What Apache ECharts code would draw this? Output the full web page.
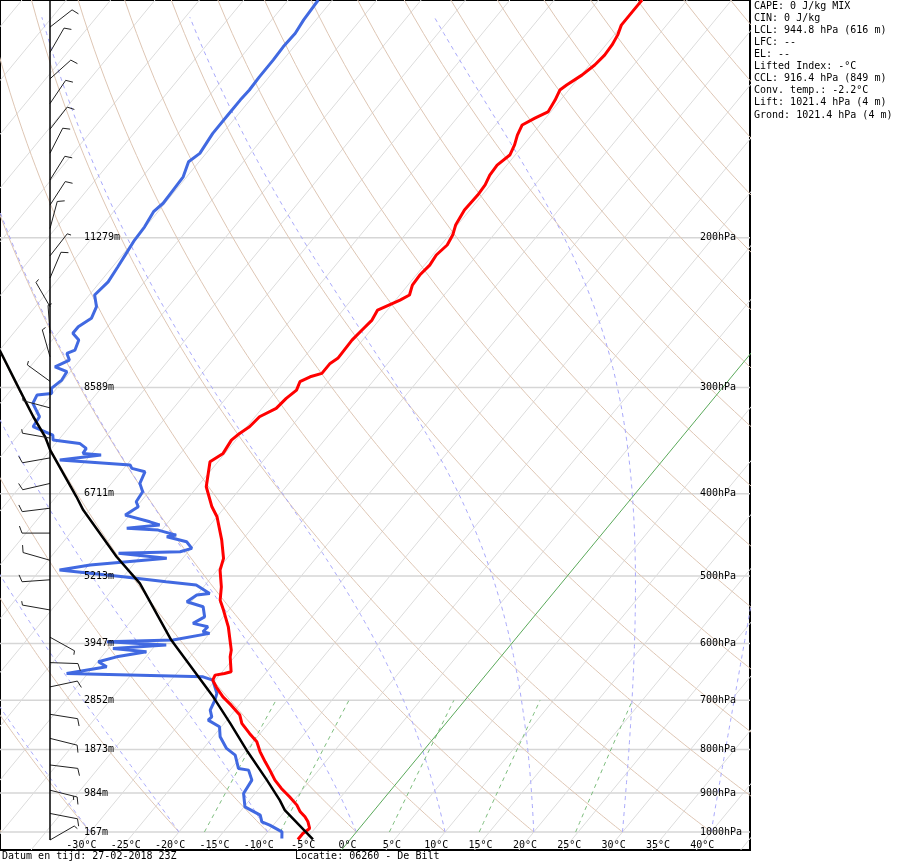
<!DOCTYPE html>
<html>
<head>
<meta charset="utf-8">
<title>Skew-T De Bilt</title>
<script src="https://cdn.jsdelivr.net/npm/echarts@6.0.0/dist/echarts.min.js"></script>
<style>
  html, body { margin: 0; padding: 0; background: #fff; }
  #chart { width: 900px; height: 865px; }
</style>
</head>
<body>
<div id="chart"></div>
<script>
// diagram frame: log pressure from 1050 to 105 hPa, skewed temperature axis
var P_TOP = 105, P_BOT = 1050, SKEW = 34.3, X_MIN = -38.5, X_MAX = 46.05;
var BARB_BASE = 50;
var MONO = '"DejaVu Sans Mono", "Liberation Mono", monospace';

// measured temperature profile (hPa, degC)
var tempP = [1020.4, 1003.9, 990.4, 972.8, 959.8, 946.8, 929.8, 909.1, 888.7, 868.9, 845.7, 826.9, 804.8, 783.3, 765.7,
  745.2, 728.6, 709.2, 693.4, 674.8, 662.7, 653.8, 650.8, 648.0, 622.2, 611.0, 573.6, 548.2, 533.6, 514.7, 491.9, 476.5,
  453.5, 425.7, 414.4, 392.5, 366.8, 358.6, 345.9, 339.7, 333.6, 324.7, 317.4, 308.9, 302.1, 295.3, 291.4, 288.7, 281.0,
  277.2, 263.8, 256.7, 249.9, 243.2, 236.7, 233.5, 227.3, 221.2, 215.3, 209.5, 203.9, 198.5, 193.2, 185.5, 178.1, 173.3,
  168.7, 164.2, 159.8, 155.5, 151.4, 147.3, 144.6, 142.2, 137.7, 134.0, 132.2, 128.7, 125.2, 121.9, 118.6, 115.4, 112.4,
  109.4, 106.4, 105.0];
var tempT = [-5.9, -5.9, -5.6, -6.4, -7.2, -8.2, -9.2, -10.8, -12.5, -14.0, -15.5, -16.8, -18.3, -19.6, -21.2,
  -23.0, -24.0, -25.9, -27.6, -29.3, -30.3, -30.5, -29.6, -29.0, -30.5, -31.0, -33.5, -35.6, -36.9, -38.0, -39.7, -40.4,
  -42.3, -45.0, -46.5, -49.0, -50.9, -50.2, -50.5, -50.2, -49.7, -49.5, -48.4, -48.2, -47.8, -48.2, -47.5, -46.5, -46.5,
  -46.1, -46.2, -46.0, -45.8, -46.1, -44.5, -43.9, -44.5, -44.6, -44.4, -44.6, -44.3, -44.6, -45.2, -45.6, -45.5, -45.6,
  -46.0, -46.1, -45.6, -46.0, -46.6, -47.0, -46.2, -45.3, -45.6, -46.0, -45.7, -44.9, -44.4, -44.2, -44.3, -44.6, -45.1,
  -45.1, -45.1, -45.1];

// measured dew point profile
var dewP = [1017.6, 999.6, 981.6, 972.8, 955.4, 934.1, 900.8, 868.9, 845.7, 841.8, 812.0, 797.4, 772.7, 752.1, 738.6,
  732.0, 718.8, 699.6, 687.0, 662.7, 656.8, 650.8, 639.2, 630.6, 622.2, 613.8, 608.2, 602.7, 597.4, 594.6, 583.9, 581.4,
  573.6, 568.3, 558.3, 543.3, 536.0, 526.4, 524.0, 512.3, 507.8, 500.9, 491.9, 485.3, 476.5, 470.1, 468.1, 463.8, 455.6,
  449.5, 447.4, 441.4, 439.3, 435.4, 431.6, 423.8, 414.4, 408.8, 397.9, 388.9, 376.9, 373.4, 370.1, 365.1, 360.2, 358.6,
  353.7, 349.0, 345.9, 341.2, 333.6, 324.7, 313.1, 306.2, 304.8, 300.7, 294.0, 287.4, 283.6, 278.5, 273.5, 271.0, 263.8,
  259.0, 254.4, 248.7, 241.0, 233.5, 225.3, 216.3, 208.6, 201.2, 194.1, 186.3, 182.1, 175.7, 169.5, 162.7, 159.1, 150.7,
  143.4, 137.7, 134.0, 129.3, 123.5, 119.2, 114.9, 110.8, 105.0];
var dewT = [-7.8, -8.4, -10.4, -11.6, -12.4, -14.9, -16.3, -16.6, -17.9, -19.2, -20.8, -22.4, -24.2, -25.2, -27.1,
  -27.0, -27.8, -28.2, -28.6, -30.3, -31.7, -47.4, -43.5, -44.9, -43.3, -40.4, -44.5, -38.8, -45.8, -38.5, -35.0, -35.9,
  -35.8, -37.8, -37.1, -38.2, -40.5, -40.0, -38.7, -41.0, -44.7, -50.0, -57.8, -54.8, -46.8, -52.7, -45.9, -44.9, -46.1,
  -48.8, -47.9, -50.4, -54.1, -50.7, -52.1, -55.5, -54.8, -55.5, -55.7, -56.8, -57.3, -59.1, -59.6, -68.0, -63.8, -66.0,
  -66.1, -67.3, -70.6, -71.1, -74.1, -74.3, -76.3, -76.6, -75.1, -75.6, -75.2, -75.4, -77.2, -76.2, -77.1, -76.5, -77.0,
  -78.3, -78.3, -77.6, -78.1, -79.4, -79.1, -79.4, -79.7, -80.0, -80.1, -80.5, -80.2, -80.3, -80.4, -81.2, -80.7, -81.1,
  -81.1, -81.1, -81.0, -81.1, -81.1, -81.2, -81.1, -81.4, -81.6];

// lifted parcel path
var parcelP = [1020.4, 942.5, 917.3, 868.9, 804.8, 745.2, 693.4, 594.6, 510.0, 474.5, 418.1, 403.3, 355.4, 342.8, 324.7, 302.1, 271.0];
var parcelT = [-4.2, -10.1, -11.6, -14.9, -19.7, -24.3, -28.7, -38.7, -47.5, -52.6, -60.7, -62.7, -70.0, -71.8, -75.0, -79.0, -85.0];

// wind barbs: pressure, direction (deg), speed (kt)
var barbP = [113, 121, 130, 139, 149, 159, 171, 183, 195, 210, 223, 241, 259, 276, 295, 317, 344, 363, 389, 416, 445,
  479, 505, 548, 590, 632, 675, 727, 776, 834, 893, 951, 1022];
var barbDir = [52, 30, 48, 34, 38, 27, 32, 33, 15, 38, 23, 330, 356, 344, 306, 285, 280, 260, 257, 263, 270,
  286, 266, 280, 119, 92, 78, 99, 104, 97, 104, 101, 60];
var barbSpd = [10, 10, 10, 10, 10, 10, 10, 10, 10, 5, 10, 5, 5, 5, 5, 5, 5, 10, 10, 10, 10,
  10, 10, 5, 5, 10, 10, 10, 10, 10, 15, 10, 5];

// axis labels
var isobarLevels = [1000, 900, 800, 700, 600, 500, 400, 300, 200];
var heightLabels = ['167m', '984m', '1873m', '2852m', '3947m', '5213m', '6711m', '8589m', '11279m'];
var tempTicks = [-30, -25, -20, -15, -10, -5, 0, 5, 10, 15, 20, 25, 30, 35, 40];

// background line families
var isotherms = [-115, -110, -105, -100, -95, -90, -85, -80, -75, -70, -65, -60, -55, -50, -45, -40, -35, -30, -25,
  -20, -15, -10, -5, 5, 10, 15, 20, 25, 30, 35, 40, 45];
var dryAdiabats = [-40, -30, -20, -10, 0, 10, 20, 30, 40, 50, 60, 70, 80, 90, 100, 110, 120, 130, 140, 150, 160, 170, 180];
var moistAdiabats = [-30, -20, -10, 0, 10, 20, 30, 40];
var mixingRatios = [1, 2, 5, 10, 20];

var infoLines = ['CAPE: 0 J/kg MIX', 'CIN: 0 J/kg', 'LCL: 944.8 hPa (616 m)', 'LFC: --', 'EL: --',
  'Lifted Index: -°C', 'CCL: 916.4 hPa (849 m)', 'Conv. temp.: -2.2°C', 'Lift: 1021.4 hPa (4 m)',
  'Grond: 1021.4 hPa (4 m)'];

function skewX(t, p) {
  return t + SKEW * Math.log(P_BOT / p);
}

function profile(ps, ts) {
  return ps.map(function (p, i) { return [skewX(ts[i], p), p]; });
}

function dryLine(theta) {
  var out = [];
  for (var p = 1000; p >= P_TOP; p -= 5) {
    var t = (theta + 273.15) * Math.pow(p / 1000, 0.2857) - 273.15;
    out.push([skewX(t, p), p]);
  }
  return out;
}

function lapse(tK, p) {
  var tc = tK - 273.15;
  var es = 6.112 * Math.exp(17.67 * tc / (tc + 243.5));
  var rs = 0.622 * es / (p - es);
  var lv = 2.501e6;
  return (287.04 * tK + lv * rs) / (p * (1005.7 + lv * lv * rs * 0.622 / (287.04 * tK * tK)));
}

function moistLine(t0) {
  var tK = t0 + 273.15, p = 1000, dp = -5;
  var out = [[skewX(t0, p), p]];
  while (p > 110) {
    var k1 = lapse(tK, p);
    var k2 = lapse(tK + k1 * dp, p + dp);
    tK += 0.5 * (k1 + k2) * dp;
    p += dp;
    out.push([skewX(tK - 273.15, p), p]);
  }
  return out;
}

function mixLine(w) {
  var out = [];
  for (var p = 1000; p >= 700; p -= 25) {
    var e = w * p / (622 + w);
    var l = Math.log(e / 6.112);
    var td = 243.5 * l / (17.67 - l);
    out.push([skewX(td, p), p]);
  }
  return out;
}

function bgLine(data, color, width, dashed) {
  return {
    type: 'line', data: data, symbol: 'none', silent: true, animation: false, z: 1,
    lineStyle: { color: color, width: width, type: dashed ? [4, 4] : 'solid' }
  };
}

var series = [];
isobarLevels.forEach(function (p) {
  series.push(bgLine([[X_MIN, p], [X_MAX, p]], '#d6d6d6', 1.5));
});
isotherms.forEach(function (t) {
  series.push(bgLine([[skewX(t, P_BOT), P_BOT], [skewX(t, P_TOP), P_TOP]], '#dcdcdc', 1));
});
dryAdiabats.forEach(function (th) {
  series.push(bgLine(dryLine(th), '#dec6b4', 1));
});
moistAdiabats.forEach(function (t) {
  series.push(bgLine(moistLine(t), '#a9a9fb', 1, true));
});
mixingRatios.forEach(function (w) {
  series.push(bgLine(mixLine(w), '#7dbd7d', 1, true));
});
// 0 degC isotherm
series.push(bgLine([[skewX(0, P_BOT), P_BOT], [skewX(0, P_TOP), P_TOP]], '#5aa95a', 1));

series.push({
  type: 'line', name: 'dauwpunt', data: profile(dewP, dewT), symbol: 'none', animation: false, z: 4,
  lineStyle: { color: '#4169e1', width: 3 }
});
series.push({
  type: 'line', name: 'temperatuur', data: profile(tempP, tempT), symbol: 'none', animation: false, z: 5,
  lineStyle: { color: '#ff0000', width: 3 }
});
series.push({
  type: 'line', name: 'parcel', data: profile(parcelP, parcelT), symbol: 'none', animation: false, z: 6,
  lineStyle: { color: '#000000', width: 2.5 }
});

// wind barbs along the left column
series.push({
  type: 'custom', silent: true, animation: false, z: 7,
  data: barbP.map(function (p) { return [X_MIN, p]; }),
  renderItem: function (params, api) {
    var i = params.dataIndex;
    var y = api.coord([X_MIN, api.value(1)])[1];
    var x = params.coordSys.x + BARB_BASE;
    var d = barbDir[i] * Math.PI / 180;
    var ux = Math.sin(d), uy = -Math.cos(d);
    var fd = d + 70 * Math.PI / 180;
    var fx = Math.sin(fd), fy = -Math.cos(fd);
    var L = 28, st = { stroke: '#222', lineWidth: 1 };
    var kids = [{ type: 'line', shape: { x1: x, y1: y, x2: x + ux * L, y2: y + uy * L }, style: st }];
    var spd = barbSpd[i], pos = L;
    while (spd >= 10) {
      var bx = x + ux * pos, by = y + uy * pos;
      kids.push({ type: 'line', shape: { x1: bx, y1: by, x2: bx + fx * 7.5, y2: by + fy * 7.5 }, style: st });
      spd -= 10; pos -= 4;
    }
    if (spd >= 5) {
      var hx = x + ux * pos, hy = y + uy * pos;
      kids.push({ type: 'line', shape: { x1: hx, y1: hy, x2: hx + fx * 4, y2: hy + fy * 4 }, style: st });
    }
    return { type: 'group', children: kids };
  }
});

// height labels (left) and pressure labels (right)
series.push({
  type: 'custom', silent: true, animation: false, z: 8,
  data: isobarLevels.map(function (p) { return [X_MIN, p]; }),
  renderItem: function (params, api) {
    var i = params.dataIndex;
    var y = api.coord([X_MIN, api.value(1)])[1];
    var x0 = params.coordSys.x;
    var font = '10px ' + MONO;
    return {
      type: 'group', children: [
        { type: 'text', style: { text: heightLabels[i], x: x0 + 84, y: y, font: font, fill: '#000', textVerticalAlign: 'middle' } },
        { type: 'text', style: { text: isobarLevels[i] + 'hPa', x: x0 + 700, y: y, font: font, fill: '#000', textVerticalAlign: 'middle' } }
      ]
    };
  }
});

// temperature labels along the bottom edge
series.push({
  type: 'custom', silent: true, animation: false, z: 8,
  data: tempTicks.map(function (t) { return [t, P_BOT]; }),
  renderItem: function (params, api) {
    var pt = api.coord([api.value(0), P_BOT]);
    return {
      type: 'text',
      style: { text: tempTicks[params.dataIndex] + '°C', x: pt[0] + 6, y: pt[1] - 5, font: '10px ' + MONO,
        fill: '#000', textAlign: 'center', textVerticalAlign: 'middle' }
    };
  }
});

var chart = echarts.init(document.getElementById('chart'));
chart.setOption({
  backgroundColor: '#fff',
  animation: false,
  grid: { left: 0, top: 0, width: 750, height: 850, show: true, borderColor: '#000', borderWidth: 2 },
  xAxis: { type: 'value', min: X_MIN, max: X_MAX, show: false },
  yAxis: { type: 'log', min: P_TOP, max: P_BOT, inverse: true, show: false, logBase: 10 },
  graphic: [
    { type: 'line', shape: { x1: 50, y1: 0, x2: 50, y2: 840 }, style: { stroke: '#000', lineWidth: 1.5 }, z: 100 },
    { type: 'text', left: 754, top: 0, z: 100,
      style: { text: infoLines.join('\n'), font: '10px ' + MONO, lineHeight: 12.1, fill: '#000' } },
    { type: 'text', left: 2, top: 851, z: 100,
      style: { text: 'Datum en tijd: 27-02-2018 23Z', font: '10px ' + MONO, fill: '#000' } },
    { type: 'text', left: 295, top: 851, z: 100,
      style: { text: 'Locatie: 06260 - De Bilt', font: '10px ' + MONO, fill: '#000' } }
  ],
  series: series
});
</script>
</body>
</html>
